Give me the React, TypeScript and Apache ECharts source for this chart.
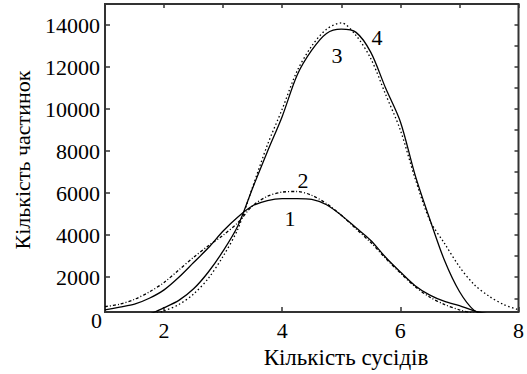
import React, { useEffect, useRef } from "react";
import * as echarts from "echarts";

const xValues = [1, 1.25, 1.5, 1.75, 2, 2.25, 2.5, 2.75, 3, 3.25, 3.5, 3.75, 4, 4.25, 4.5, 4.75, 5, 5.25, 5.5, 5.75, 6, 6.25, 6.5, 6.75, 7, 7.25, 7.5, 7.75, 8];

const curve1 = [450, 580, 720, 1000, 1400, 2000, 2700, 3400, 4200, 4870, 5400, 5650, 5740, 5740, 5700, 5450, 4950, 4350, 3750, 2950, 2250, 1600, 1150, 850, 650, 400, 250, 150, 80];
const curve2 = [600, 720, 950, 1300, 1750, 2350, 2950, 3500, 4000, 4600, 5400, 5850, 6050, 6080, 5900, 5500, 4950, 4300, 3650, 2900, 2200, 1550, 1050, 700, 450, 280, 170, 100, 60];
const curve3 = [60, 80, 120, 250, 550, 900, 1450, 2250, 3250, 4450, 6250, 7980, 9650, 11600, 12800, 13600, 13802, 13650, 12700, 11000, 9400, 6860, 4750, 2780, 1320, 420, 150, 60, 30];
const curve4 = [80, 100, 130, 200, 400, 700, 1200, 1950, 3000, 4300, 6300, 8300, 10000, 11800, 13000, 13800, 14100, 13500, 12400, 10700, 9000, 6700, 4700, 3600, 2500, 1650, 1100, 700, 450];

const yLabelValues = [2000, 4000, 6000, 8000, 10000, 12000, 14000];
const yRightTicks = [1000, 2000, 3000, 4000, 5000, 6000, 7000, 8000, 9000, 10000, 11000, 12000, 13000, 14000];
const xLabelValues = [2, 4, 6, 8];

const curveNames = ["1", "2", "3", "4"];
const xTitle = "Кількість сусідів";
const yTitle = "Кількість частинок";

const FONT = "Liberation Serif";

export default function App() {
  const ref = useRef<HTMLDivElement>(null);
  useEffect(() => {
    if (!ref.current) return;
    const chart = echarts.init(ref.current, null, { renderer: "svg" });
    const toPairs = (arr: number[]) => xValues.map((x, i) => [x, arr[i]]);
    const yMin = 346;
    const yMax = 15000;
    const axisCol = "#333";
    const lineBase = { type: "line", symbol: "none", smooth: 0.3, clip: true, animation: false };
    const plain = (v: number) => String(v);
    chart.setOption({
      animation: false,
      grid: { left: 105, right: 7, top: 4, bottom: 62, show: true, borderColor: axisCol, borderWidth: 2, backgroundColor: "transparent" },
      xAxis: [
        {
          type: "value", min: 1, max: 8, position: "bottom",
          axisLine: { show: false },
          splitLine: { show: false },
          axisTick: { show: true, inside: true, length: 5, customValues: xLabelValues, lineStyle: { color: axisCol, width: 1.5 } },
          axisLabel: { customValues: xLabelValues, formatter: plain, fontSize: 22, fontFamily: FONT, color: "#000", margin: 7 },
        },
        {
          type: "value", min: 1, max: 8, interval: 1, position: "top",
          axisLine: { show: false },
          splitLine: { show: false },
          axisTick: { show: true, inside: true, length: 4, lineStyle: { color: axisCol, width: 1.5 } },
          axisLabel: { show: false },
        },
      ],
      yAxis: [
        {
          type: "value", min: yMin, max: yMax, position: "left",
          axisLine: { show: false },
          splitLine: { show: false },
          axisTick: { show: true, inside: true, length: 5, customValues: yLabelValues, lineStyle: { color: axisCol, width: 1.5 } },
          axisLabel: { customValues: yLabelValues, formatter: plain, fontSize: 22, fontFamily: FONT, color: "#000", margin: 5 },
        },
        {
          type: "value", min: yMin, max: yMax, position: "right",
          axisLine: { show: false },
          splitLine: { show: false },
          axisTick: { show: true, inside: true, length: 4, customValues: yRightTicks, lineStyle: { color: axisCol, width: 1.5 } },
          axisLabel: { show: false },
        },
      ],
      series: [
        { ...lineBase, name: curveNames[0], data: toPairs(curve1), lineStyle: { color: "#000", width: 1.3, type: "solid" } },
        { ...lineBase, name: curveNames[1], data: toPairs(curve2), lineStyle: { color: "#000", width: 1.3, type: [3, 2, 1, 2] } },
        { ...lineBase, name: curveNames[2], data: toPairs(curve3), lineStyle: { color: "#000", width: 1.3, type: "solid" } },
        { ...lineBase, name: curveNames[3], data: toPairs(curve4), lineStyle: { color: "#000", width: 1.3, type: [1.5, 2.5] } },
      ],
      graphic: [
        { type: "text", x: 102, y: 320, style: { text: "0", fontSize: 22, fontFamily: FONT, fill: "#000", align: "right", verticalAlign: "middle" } },
        { type: "text", x: 346, y: 357, style: { text: xTitle, fontSize: 23, fontFamily: FONT, fill: "#000", align: "center", verticalAlign: "middle" } },
        { type: "text", x: 22, y: 160, rotation: Math.PI / 2, style: { text: yTitle, fontSize: 22, fontFamily: FONT, fill: "#000", align: "center", verticalAlign: "middle" } },
        { type: "text", x: 290, y: 218, style: { text: curveNames[0], fontSize: 22, fontFamily: FONT, fill: "#000", align: "center", verticalAlign: "middle" } },
        { type: "text", x: 303, y: 180, style: { text: curveNames[1], fontSize: 22, fontFamily: FONT, fill: "#000", align: "center", verticalAlign: "middle" } },
        { type: "text", x: 337, y: 55, style: { text: curveNames[2], fontSize: 22, fontFamily: FONT, fill: "#000", align: "center", verticalAlign: "middle" } },
        { type: "text", x: 377, y: 37, style: { text: curveNames[3], fontSize: 22, fontFamily: FONT, fill: "#000", align: "center", verticalAlign: "middle" } },
      ],
    });
    return () => chart.dispose();
  }, []);
  return <div ref={ref} style={{ width: 527, height: 374, position: "absolute", left: 0, top: 0 }} />;
}
